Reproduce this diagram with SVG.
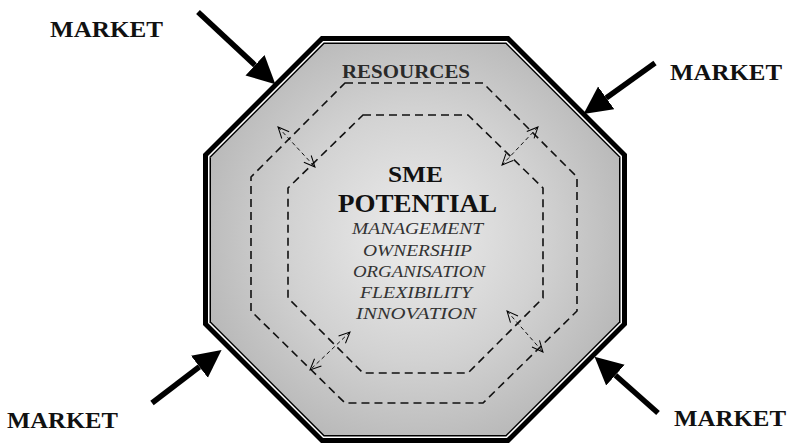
<svg xmlns="http://www.w3.org/2000/svg" width="789" height="444" viewBox="0 0 789 444">
<defs>
<radialGradient id="fillGrad" cx="415" cy="235" r="230" gradientUnits="userSpaceOnUse">
<stop offset="0" stop-color="#ececec"/>
<stop offset="0.55" stop-color="#d2d2d2"/>
<stop offset="1" stop-color="#b6b6b6"/>
</radialGradient>
<marker id="bigHead" markerUnits="userSpaceOnUse" markerWidth="30" markerHeight="30" viewBox="0 -14 28 28" refX="0" refY="0" orient="auto">
<path d="M0,-13 L26,0 L0,13 z" fill="#000"/>
</marker>
<marker id="openHead" markerUnits="userSpaceOnUse" markerWidth="14" markerHeight="14" viewBox="-12 -7 14 14" refX="0" refY="0" orient="auto-start-reverse">
<path d="M-11,-5 L0,0 L-11,5" fill="none" stroke="#000" stroke-width="1" stroke-dasharray="none"/>
</marker>
</defs>
<style>
.market{font-family:"Liberation Serif",serif;font-weight:bold;font-size:23px;fill:#111}
.title{font-family:"Liberation Serif",serif;font-weight:bold;fill:#111;text-anchor:middle}
.res{font-family:"Liberation Serif",serif;font-weight:bold;font-size:19px;fill:#2a2a2a;text-anchor:middle}
.item{font-family:"Liberation Serif",serif;font-style:italic;font-size:16px;fill:#333;text-anchor:middle}
.dash{fill:none;stroke:#111;stroke-width:1.6;stroke-dasharray:8 5}
.dArrow{fill:none;stroke:#111;stroke-width:1;stroke-dasharray:4 3;marker-start:url(#openHead);marker-end:url(#openHead)}
.mArrow{fill:none;stroke:#000;stroke-width:5.5;marker-end:url(#bigHead)}
</style>

<g id="sme-octagon">
<polygon points="321,36 509,36 627,154 627,325 509,443 321,443 203,325 203,154" fill="#000"/>
<polygon points="323.1,41 506.9,41 622,156.1 622,322.9 506.9,438 323.1,438 208,322.9 208,156.1" fill="#fff"/>
<polygon points="323.7,42.5 506.3,42.5 620.5,156.7 620.5,322.3 506.3,436.5 323.7,436.5 209.5,322.3 209.5,156.7" fill="#000"/>
<polygon points="324.3,44 505.7,44 619,157.3 619,321.7 505.7,435 324.3,435 211,321.7 211,157.3" fill="url(#fillGrad)"/>
</g>

<g id="resources-boundary">
<polygon class="dash" points="345,83 483,83 577,177 577,311 483,403 345,403 251,311 251,177"/>
<text class="res" x="406" y="78" textLength="128" lengthAdjust="spacingAndGlyphs">RESOURCES</text>
</g>

<g id="potential-boundary">
<polygon class="dash" points="363,115 468,115 543,188 543,298 468,373 363,373 288,298 288,188"/>
</g>

<g id="sme-potential">
<text class="title" x="415.5" y="182" font-size="23" textLength="55" lengthAdjust="spacingAndGlyphs">SME</text>
<text class="title" x="417.5" y="212" font-size="25" textLength="159" lengthAdjust="spacingAndGlyphs">POTENTIAL</text>
<text class="item" x="417.5" y="234" textLength="131" lengthAdjust="spacingAndGlyphs">MANAGEMENT</text>
<text class="item" x="417.5" y="256" textLength="109" lengthAdjust="spacingAndGlyphs">OWNERSHIP</text>
<text class="item" x="419" y="277" textLength="132" lengthAdjust="spacingAndGlyphs">ORGANISATION</text>
<text class="item" x="416" y="298" textLength="112" lengthAdjust="spacingAndGlyphs">FLEXIBILITY</text>
<text class="item" x="416" y="319" textLength="120" lengthAdjust="spacingAndGlyphs">INNOVATION</text>
</g>

<g id="market-tl"><text class="market" x="50" y="37" textLength="113" lengthAdjust="spacingAndGlyphs">MARKET</text></g>
<g id="market-tr"><text class="market" x="670" y="80" textLength="112" lengthAdjust="spacingAndGlyphs">MARKET</text></g>
<g id="market-bl"><text class="market" x="7" y="428" textLength="111" lengthAdjust="spacingAndGlyphs">MARKET</text></g>
<g id="market-br"><text class="market" x="674" y="426" textLength="112" lengthAdjust="spacingAndGlyphs">MARKET</text></g>

<g id="connectors">
<line class="mArrow" x1="198" y1="12" x2="255" y2="65.2"/>
<line class="mArrow" x1="655" y1="63" x2="606.2" y2="97.9"/>
<line class="mArrow" x1="152" y1="403" x2="199.4" y2="366.8"/>
<line class="mArrow" x1="658" y1="413" x2="615.4" y2="375.2"/>
<line class="dArrow" x1="278" y1="127" x2="315" y2="167"/>
<line class="dArrow" x1="538" y1="127" x2="502" y2="165"/>
<line class="dArrow" x1="350" y1="332" x2="310" y2="370"/>
<line class="dArrow" x1="507" y1="311" x2="543" y2="352"/>
</g>
</svg>
